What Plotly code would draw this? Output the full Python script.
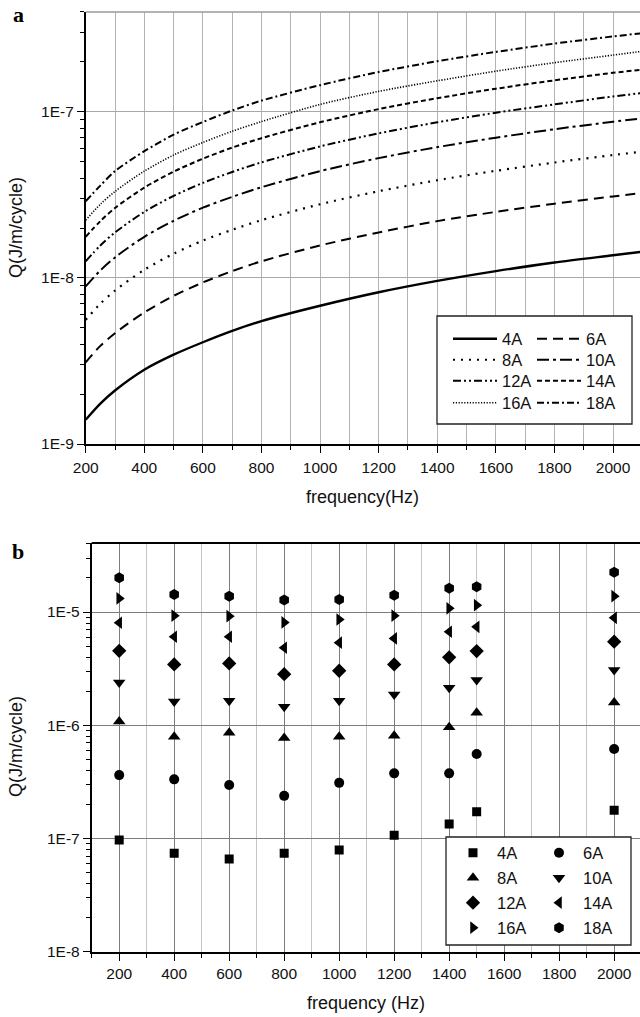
import plotly.graph_objects as go

# ---------------- data ----------------
currents = ["4A", "6A", "8A", "10A", "12A", "14A", "16A", "18A"]

# panel a: calculated loss curves
freq_a = [200, 250, 300, 400, 500, 600, 700, 800, 1000, 1200, 1400, 1600, 1800, 2000, 2100]
qa_4A = [1.40e-9, 1.75e-9, 2.10e-9, 2.80e-9, 3.45e-9, 4.10e-9, 4.80e-9, 5.50e-9, 6.80e-9, 8.20e-9, 9.60e-9, 1.10e-8, 1.24e-8, 1.37e-8, 1.44e-8]
qa_6A = [3.10e-9, 3.90e-9, 4.65e-9, 6.20e-9, 7.80e-9, 9.40e-9, 1.10e-8, 1.26e-8, 1.57e-8, 1.88e-8, 2.20e-8, 2.50e-8, 2.80e-8, 3.10e-8, 3.25e-8]
qa_8A = [5.60e-9, 7.00e-9, 8.40e-9, 1.12e-8, 1.40e-8, 1.68e-8, 1.95e-8, 2.23e-8, 2.78e-8, 3.33e-8, 3.88e-8, 4.42e-8, 4.96e-8, 5.50e-8, 5.77e-8]
qa_10A = [8.90e-9, 1.11e-8, 1.33e-8, 1.77e-8, 2.21e-8, 2.65e-8, 3.08e-8, 3.52e-8, 4.40e-8, 5.27e-8, 6.14e-8, 7.00e-8, 7.87e-8, 8.73e-8, 9.16e-8]
qa_12A = [1.26e-8, 1.57e-8, 1.88e-8, 2.50e-8, 3.12e-8, 3.74e-8, 4.35e-8, 4.97e-8, 6.20e-8, 7.43e-8, 8.66e-8, 9.90e-8, 1.11e-7, 1.24e-7, 1.30e-7]
qa_14A = [1.77e-8, 2.20e-8, 2.64e-8, 3.50e-8, 4.37e-8, 5.23e-8, 6.10e-8, 6.95e-8, 8.67e-8, 1.04e-7, 1.21e-7, 1.38e-7, 1.55e-7, 1.72e-7, 1.80e-7]
qa_16A = [2.23e-8, 2.78e-8, 3.32e-8, 4.40e-8, 5.50e-8, 6.55e-8, 7.65e-8, 8.75e-8, 1.11e-7, 1.33e-7, 1.54e-7, 1.76e-7, 1.98e-7, 2.20e-7, 2.32e-7]
qa_18A = [2.90e-8, 3.60e-8, 4.40e-8, 5.80e-8, 7.30e-8, 8.70e-8, 1.02e-7, 1.17e-7, 1.45e-7, 1.74e-7, 2.02e-7, 2.30e-7, 2.58e-7, 2.85e-7, 2.98e-7]

# panel b: measured losses
freq_b = [200, 400, 600, 800, 1000, 1200, 1400, 1500, 2000]
qb_4A = [9.7e-8, 7.4e-8, 6.6e-8, 7.4e-8, 7.9e-8, 1.07e-7, 1.34e-7, 1.72e-7, 1.78e-7]
qb_6A = [3.63e-7, 3.33e-7, 2.97e-7, 2.38e-7, 3.10e-7, 3.76e-7, 3.76e-7, 5.57e-7, 6.17e-7]
qb_8A = [1.08e-6, 7.9e-7, 8.6e-7, 7.7e-7, 7.9e-7, 8.1e-7, 9.6e-7, 1.29e-6, 1.59e-6]
qb_10A = [2.39e-6, 1.62e-6, 1.65e-6, 1.46e-6, 1.65e-6, 1.87e-6, 2.14e-6, 2.51e-6, 3.08e-6]
qb_12A = [4.55e-6, 3.45e-6, 3.52e-6, 2.83e-6, 3.03e-6, 3.45e-6, 3.98e-6, 4.52e-6, 5.47e-6]
qb_14A = [8.05e-6, 6.05e-6, 6.05e-6, 4.84e-6, 5.36e-6, 5.85e-6, 6.70e-6, 7.40e-6, 8.90e-6]
qb_16A = [1.32e-5, 9.3e-6, 9.2e-6, 8.1e-6, 8.6e-6, 9.3e-6, 1.08e-5, 1.15e-5, 1.38e-5]
qb_18A = [2.01e-5, 1.43e-5, 1.38e-5, 1.28e-5, 1.29e-5, 1.41e-5, 1.62e-5, 1.67e-5, 2.25e-5]

ytick_a_vals = [1e-9, 1e-8, 1e-7]
ytick_a_text = ["1E-9", "1E-8", "1E-7"]
ytick_b_vals = [1e-8, 1e-7, 1e-6, 1e-5]
ytick_b_text = ["1E-8", "1E-7", "1E-6", "1E-5"]
xtick_vals = [200, 400, 600, 800, 1000, 1200, 1400, 1600, 1800, 2000]

series_a = [qa_4A, qa_6A, qa_8A, qa_10A, qa_12A, qa_14A, qa_16A, qa_18A]
series_b = [qb_4A, qb_6A, qb_8A, qb_10A, qb_12A, qb_14A, qb_16A, qb_18A]

# ---------------- style ----------------
W, H = 640, 1017
FONT = "Liberation Sans, Arial, sans-serif"
SERIF = "Liberation Serif, Times New Roman, serif"

dashes = ["solid", "10px,6px", "2px,6px", "12px,4px,3px,4px",
          "8px,3px,2px,3px,2px,3px", "5px,3px", "1.2px,1.6px", "7px,3px,2px,3px"]
widths = [2.4, 2.0, 2.2, 2.0, 2.0, 2.0, 1.6, 2.0]
symbols = ["square", "circle", "triangle-up", "triangle-down",
           "diamond", "triangle-left", "triangle-right", "hexagon"]
msizes = [9, 10, 11, 11, 11, 11, 11, 11]


def px_x(p):
    return p / W


def px_y(p):
    return 1 - p / H


# panel geometry (pixels)
A_LEFT, A_TOP, A_BOT = 85.7, 12.0, 444.0
B_LEFT, B_TOP, B_BOT = 91.7, 543.0, 951.7

fig = go.Figure()

for i, name in enumerate(currents):
    row = i // 2
    fig.add_trace(go.Scatter(
        x=freq_a, y=series_a[i], mode="lines", name=name,
        line=dict(color="black", width=widths[i], dash=dashes[i], shape="spline", smoothing=0.8),
        xaxis="x", yaxis="y",
        legend="legend" if row == 0 else f"legend{row + 1}",
        showlegend=True,
    ))

for i, name in enumerate(currents):
    row = i // 2
    fig.add_trace(go.Scatter(
        x=freq_b, y=series_b[i], mode="markers", name=name,
        marker=dict(color="black", size=msizes[i], symbol=symbols[i], line=dict(width=0)),
        xaxis="x2", yaxis="y2",
        legend=f"legend{row + 5}",
        showlegend=True,
    ))

tickfont = dict(family=FONT, size=15.5, color="#111")


def minor_log(lo_exp, hi_exp, top):
    vals = []
    for e in range(lo_exp, hi_exp + 1):
        for m in range(2, 10):
            v = m * 10 ** e
            if v <= top:
                vals.append(v)
    return vals


fig.update_layout(
    template="none",
    width=W, height=H,
    margin=dict(l=0, r=0, t=0, b=0, autoexpand=False),
    paper_bgcolor="white", plot_bgcolor="white",
    font=dict(family=FONT, size=15, color="#111"),
    xaxis=dict(
        domain=[px_x(A_LEFT), 1], range=[200, 2092], anchor="y", automargin=False,
        tickmode="array", tickvals=xtick_vals, ticks="outside", ticklen=7, tickwidth=1.2,
        tickcolor="black", showline=True, linecolor="black", linewidth=1.5,
        showgrid=True, gridcolor="#b4b4b4", gridwidth=1, zeroline=False,
        tickfont=tickfont, ticklabelstandoff=2,
        minor=dict(tickmode="array", tickvals=list(range(300, 2100, 200)), ticks="outside",
                   ticklen=4, tickcolor="black", showgrid=True, gridcolor="#b4b4b4", gridwidth=1),
    ),
    yaxis=dict(
        domain=[px_y(A_BOT), px_y(A_TOP)], type="log", range=[-9, -6.398], anchor="x",
        automargin=False,
        tickmode="array", tickvals=ytick_a_vals, ticktext=ytick_a_text,
        ticks="outside", ticklen=7, tickwidth=1.2, tickcolor="black",
        showline=True, linecolor="black", linewidth=1.5,
        showgrid=True, gridcolor="#a8a8a8", gridwidth=1.2, zeroline=False,
        tickfont=tickfont,
        minor=dict(tickmode="array", tickvals=minor_log(-9, -7, 4e-7), ticks="outside",
                   ticklen=4, tickcolor="black", showgrid=False),
    ),
    xaxis2=dict(
        domain=[px_x(B_LEFT), 1], range=[100, 2094], anchor="y2", automargin=False,
        tickmode="array", tickvals=xtick_vals, ticks="outside", ticklen=7, tickwidth=1.2,
        tickcolor="black", showline=True, linecolor="black", linewidth=1.8,
        showgrid=True, gridcolor="#7c7c7c", gridwidth=1.1, zeroline=False,
        tickfont=tickfont,
        minor=dict(tickmode="array", tickvals=list(range(100, 2100, 200)), ticks="outside",
                   ticklen=4, tickcolor="black", showgrid=True, gridcolor="#c4c4c4", gridwidth=1),
    ),
    yaxis2=dict(
        domain=[px_y(B_BOT), px_y(B_TOP)], type="log", range=[-8, -4.39], anchor="x2",
        automargin=False,
        tickmode="array", tickvals=ytick_b_vals, ticktext=ytick_b_text,
        ticks="outside", ticklen=7, tickwidth=1.2, tickcolor="black",
        showline=True, linecolor="black", linewidth=1.8,
        showgrid=True, gridcolor="#7c7c7c", gridwidth=1.1, zeroline=False,
        tickfont=tickfont,
        minor=dict(tickmode="array", tickvals=minor_log(-8, -5, 4e-5), ticks="outside",
                   ticklen=4, tickcolor="black", showgrid=False),
    ),
)

# legends: one horizontal legend per row
leg_font = dict(family=FONT, size=16.5, color="#111")
top_rows_y = [339, 360, 381, 403]
bot_rows_y = [853, 878, 903, 928]
legends = {}
for r in range(4):
    key = "legend" if r == 0 else f"legend{r + 1}"
    legends[key] = dict(
        orientation="h", x=px_x(448), xanchor="left", y=px_y(top_rows_y[r]), yanchor="middle",
        bgcolor="rgba(0,0,0,0)", borderwidth=0, font=leg_font,
        entrywidth=25, entrywidthmode="pixels", itemwidth=44, tracegroupgap=0,
        itemclick=False, itemdoubleclick=False,
    )
    keyb = f"legend{r + 5}"
    legends[keyb] = dict(
        orientation="h", x=px_x(449), xanchor="left", y=px_y(bot_rows_y[r]), yanchor="middle",
        bgcolor="rgba(0,0,0,0)", borderwidth=0, font=leg_font,
        entrywidth=33, entrywidthmode="pixels", itemwidth=38, tracegroupgap=0,
        itemclick=False, itemdoubleclick=False,
    )
fig.update_layout(**legends)

# frame lines and legend boxes
shapes = [
    dict(type="line", xref="x domain", yref="y domain", x0=0, x1=1, y0=1, y1=1,
         line=dict(color="#9a9a9a", width=1.5)),
    dict(type="line", xref="x2 domain", yref="y2 domain", x0=0, x1=1, y0=1, y1=1,
         line=dict(color="black", width=1.8)),
    dict(type="rect", xref="paper", yref="paper", x0=px_x(437), x1=px_x(632),
         y0=px_y(424), y1=px_y(316), fillcolor="white", line=dict(color="#222", width=1.3),
         layer="above"),
    dict(type="rect", xref="paper", yref="paper", x0=px_x(446), x1=px_x(631),
         y0=px_y(945), y1=px_y(837), fillcolor="white", line=dict(color="#222", width=1.3),
         layer="above"),
]
fig.update_layout(shapes=shapes)

title_font = dict(family=FONT, size=18, color="#111")
annotations = [
    dict(text="<b>a</b>", x=px_x(18), y=px_y(15)),
    dict(text="<b>b</b>", x=px_x(18), y=px_y(551)),
    dict(text="frequency(Hz)", x=px_x(362), y=px_y(497), font=title_font),
    dict(text="frequency (Hz)", x=px_x(366), y=px_y(1003), font=title_font),
    dict(text="Q(J/m/cycle)", x=px_x(16), y=px_y(228), textangle=-90, font=title_font),
    dict(text="Q(J/m/cycle)", x=px_x(16), y=px_y(747), textangle=-90, font=title_font),
]
for a in annotations:
    a.update(xref="paper", yref="paper", showarrow=False, xanchor="center", yanchor="middle")
    if "font" not in a:
        a["font"] = dict(family=SERIF, size=22, color="black")
fig.update_layout(annotations=annotations)

fig.write_html("out.html")
